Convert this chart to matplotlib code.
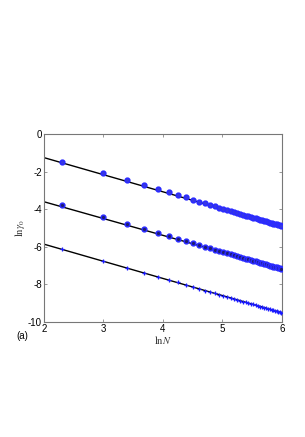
import matplotlib
matplotlib.use('Agg')
import matplotlib.pyplot as plt

plt.rcParams['mathtext.fontset'] = 'stix'
plt.rcParams['axes.unicode_minus'] = False

# ln N for N = 10, 20, ..., 400
ln_n = [2.303, 2.996, 3.401, 3.689, 3.912, 4.094, 4.248, 4.382, 4.500, 4.605,
        4.700, 4.787, 4.868, 4.942, 5.011, 5.075, 5.136, 5.193, 5.247, 5.298,
        5.347, 5.394, 5.438, 5.481, 5.521, 5.561, 5.598, 5.635, 5.670, 5.704,
        5.737, 5.768, 5.799, 5.829, 5.858, 5.886, 5.914, 5.940, 5.966, 5.991]

top = [-1.49, -2.08, -2.45, -2.72, -2.93, -3.10, -3.25, -3.38, -3.50, -3.60,
       -3.69, -3.77, -3.85, -3.92, -3.99, -4.05, -4.11, -4.16, -4.21, -4.26,
       -4.30, -4.35, -4.39, -4.43, -4.46, -4.50, -4.53, -4.57, -4.60, -4.63,
       -4.66, -4.69, -4.72, -4.74, -4.77, -4.80, -4.82, -4.85, -4.87, -4.89]

mid = [-3.80, -4.40, -4.78, -5.06, -5.27, -5.44, -5.59, -5.71, -5.82, -5.92,
       -6.01, -6.09, -6.16, -6.23, -6.29, -6.35, -6.41, -6.46, -6.51, -6.56,
       -6.60, -6.64, -6.68, -6.72, -6.76, -6.79, -6.83, -6.86, -6.89, -6.92,
       -6.95, -6.98, -7.01, -7.04, -7.06, -7.09, -7.11, -7.14, -7.16, -7.18]

bot = [-6.11, -6.74, -7.12, -7.39, -7.60, -7.77, -7.91, -8.04, -8.15, -8.25,
       -8.34, -8.42, -8.49, -8.56, -8.62, -8.68, -8.73, -8.79, -8.84, -8.88,
       -8.93, -8.97, -9.01, -9.05, -9.08, -9.12, -9.15, -9.19, -9.22, -9.25,
       -9.28, -9.31, -9.34, -9.36, -9.39, -9.42, -9.44, -9.47, -9.49, -9.51]

# fitted lines, endpoints at ln N = 2 and 6
fit_x = [2, 6]
fit_top = [-1.26, -4.90]
fit_mid = [-3.61, -7.19]
fit_bot = [-5.87, -9.52]

fig = plt.figure(figsize=(3.05, 4.37), dpi=100, facecolor='white')
ax = fig.add_axes([0.1443, 0.2638, 0.780, 0.4296])

for fy in (fit_top, fit_mid, fit_bot):
    ax.plot(fit_x, fy, color='black', linewidth=1.0, zorder=2)

ax.plot(ln_n, top, 'o', color='#2a2aff', markersize=3.4, markeredgewidth=1.1,
        markerfacecolor='#3838e0', zorder=3)
ax.plot(ln_n, mid, 'o', color='#2a2aff', markersize=3.4, markeredgewidth=1.1,
        markerfacecolor='#1c1c70', zorder=3)
ax.plot(ln_n, bot, '+', color='#1a1aff', markersize=3.0, markeredgewidth=0.9,
        zorder=3)

ax.set_xlim(2, 6)
ax.set_ylim(-10, 0)
ax.set_xticks([2, 3, 4, 5, 6])
ax.set_yticks([-10, -8, -6, -4, -2, 0])
ax.tick_params(direction='in', length=2.5, width=0.6, color='#888888',
               labelsize=7, pad=1.5, top=True, right=True)
for lab in ax.get_xticklabels() + ax.get_yticklabels():
    lab.set_family('Liberation Sans')
for sp in ax.spines.values():
    sp.set_color('#777777')
    sp.set_linewidth(0.8)

ax.set_xlabel(r'$\mathrm{ln}N$', fontsize=7.5, labelpad=0)
ax.set_ylabel(r'$\mathrm{ln}\gamma_0$', fontsize=7.5, labelpad=1)
ax.xaxis.label.set_color('#333333')
ax.yaxis.label.set_color('#333333')
fig.text(0.055, 0.225, '(a)', fontsize=7, family='Liberation Sans')

fig.savefig('out.png', dpi=100)
